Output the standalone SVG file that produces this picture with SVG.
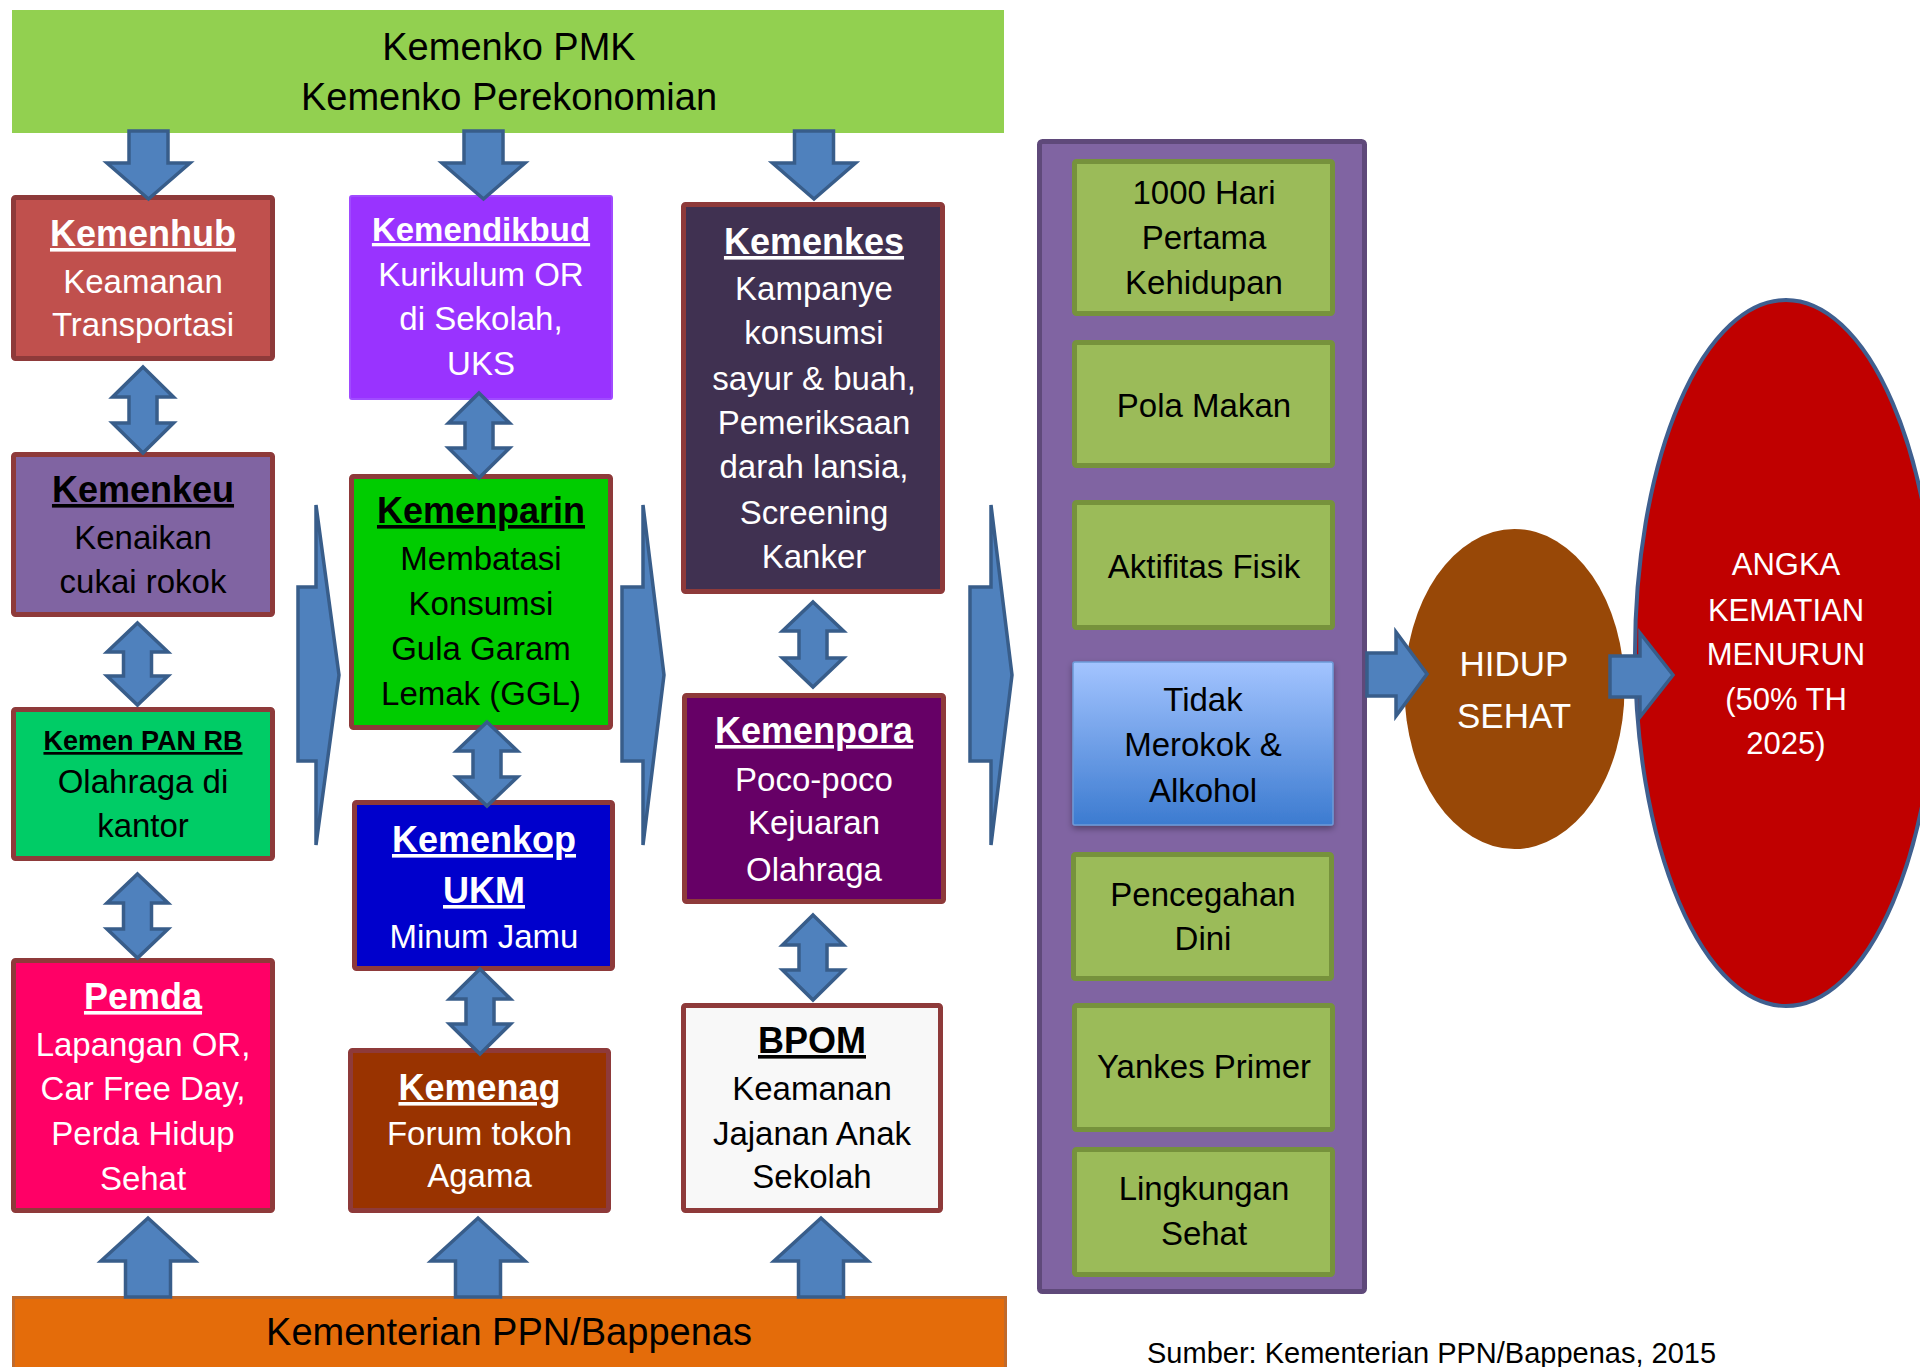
<svg xmlns="http://www.w3.org/2000/svg" width="1920" height="1367" viewBox="0 0 1920 1367">
<defs>
<style>
.arrow{fill:#4F81BD;stroke:#385D8A;stroke-width:3.5;stroke-linejoin:miter}
.box{stroke:#8E3A3A;stroke-width:5}
.g{fill:#9BBB59;stroke:#76923C;stroke-width:5}
text{font-family:"Liberation Sans",Arial,sans-serif;text-anchor:middle}
.title{font-weight:bold;font-size:36px;text-decoration:underline}
.body{font-size:33px}
.w{fill:#ffffff}
.k{fill:#000000}
</style>
<linearGradient id="blueGrad" x1="0" y1="0" x2="0" y2="1">
<stop offset="0" stop-color="#A3C4FF"/>
<stop offset="1" stop-color="#3C7BD0"/>
</linearGradient>
<filter id="shadow" x="-10%" y="-10%" width="120%" height="130%">
<feDropShadow dx="0" dy="3" stdDeviation="3" flood-color="#000" flood-opacity="0.35"/>
</filter>
</defs>
<rect width="1920" height="1367" fill="#ffffff"/>

<g id="kemenko">
<rect x="12" y="10" width="992" height="123" fill="#92D050"/>
<text class="k" x="509" y="60" font-size="38">Kemenko PMK</text>
<text class="k" x="509" y="110" font-size="38">Kemenko Perekonomian</text>
</g>

<g id="bappenas">
<rect x="13.5" y="1297.5" width="992" height="80" fill="#E46C0A" stroke="#C06A2B" stroke-width="3"/>
<text class="k" x="509" y="1345" font-size="38">Kementerian PPN/Bappenas</text>
</g>

<g id="kemenhub">
<rect class="box" x="13.5" y="197.5" width="259" height="161" rx="2" fill="#C0504D"/>
<text class="title w" x="143" y="246">Kemenhub</text>
<text class="body w" x="143" y="293">Keamanan</text>
<text class="body w" x="143" y="336">Transportasi</text>
</g>

<g id="kemenkeu">
<rect class="box" x="13.5" y="454.5" width="259" height="160" rx="2" fill="#8064A2"/>
<text class="title k" x="143" y="502">Kemenkeu</text>
<text class="body k" x="143" y="549">Kenaikan</text>
<text class="body k" x="143" y="593">cukai rokok</text>
</g>

<g id="kemenpanrb">
<rect class="box" x="13.5" y="709.5" width="259" height="149" rx="2" fill="#00CC66"/>
<text class="k" x="143" y="750" font-size="27" font-weight="bold" text-decoration="underline">Kemen PAN RB</text>
<text class="body k" x="143" y="793">Olahraga di</text>
<text class="body k" x="143" y="837">kantor</text>
</g>

<g id="pemda">
<rect class="box" x="13.5" y="960.5" width="259" height="250" rx="2" fill="#FF0066"/>
<text class="title w" x="143" y="1009">Pemda</text>
<text class="body w" x="143" y="1056">Lapangan OR,</text>
<text class="body w" x="143" y="1100">Car Free Day,</text>
<text class="body w" x="143" y="1145">Perda Hidup</text>
<text class="body w" x="143" y="1190">Sehat</text>
</g>

<g id="kemendikbud">
<rect x="350" y="196" width="262" height="203" rx="2" fill="#9933FF" stroke="#A04BFF" stroke-width="2"/>
<text class="w" x="481" y="241" font-size="33" font-weight="bold" text-decoration="underline">Kemendikbud</text>
<text class="body w" x="481" y="286">Kurikulum OR</text>
<text class="body w" x="481" y="330">di Sekolah,</text>
<text class="body w" x="481" y="375">UKS</text>
</g>

<g id="kemenparin">
<rect class="box" x="351.5" y="476.5" width="259" height="251" rx="2" fill="#00CC00"/>
<text class="title k" x="481" y="523">Kemenparin</text>
<text class="body k" x="481" y="570">Membatasi</text>
<text class="body k" x="481" y="615">Konsumsi</text>
<text class="body k" x="481" y="660">Gula Garam</text>
<text class="body k" x="481" y="705">Lemak (GGL)</text>
</g>

<g id="kemenkop">
<rect class="box" x="354.5" y="802.5" width="258" height="166" rx="2" fill="#0000CC"/>
<text class="title w" x="484" y="852">Kemenkop</text>
<text class="title w" x="484" y="903">UKM</text>
<text class="body w" x="484" y="948">Minum Jamu</text>
</g>

<g id="kemenag">
<rect class="box" x="350.5" y="1050.5" width="258" height="160" rx="2" fill="#993300"/>
<text class="title w" x="479.5" y="1100">Kemenag</text>
<text class="body w" x="479.5" y="1145">Forum tokoh</text>
<text class="body w" x="479.5" y="1187">Agama</text>
</g>

<g id="kemenkes">
<rect class="box" x="683.5" y="204.5" width="259" height="387" rx="2" fill="#403151"/>
<text class="title w" x="814" y="254">Kemenkes</text>
<text class="body w" x="814" y="300">Kampanye</text>
<text class="body w" x="814" y="344">konsumsi</text>
<text class="body w" x="814" y="390">sayur &amp; buah,</text>
<text class="body w" x="814" y="434">Pemeriksaan</text>
<text class="body w" x="814" y="478">darah lansia,</text>
<text class="body w" x="814" y="524">Screening</text>
<text class="body w" x="814" y="568">Kanker</text>
</g>

<g id="kemenpora">
<rect class="box" x="684.5" y="695.5" width="259" height="206" rx="2" fill="#660066"/>
<text class="title w" x="814" y="743">Kemenpora</text>
<text class="body w" x="814" y="791">Poco-poco</text>
<text class="body w" x="814" y="834">Kejuaran</text>
<text class="body w" x="814" y="881">Olahraga</text>
</g>

<g id="bpom">
<rect class="box" x="683.5" y="1005.5" width="257" height="205" rx="2" fill="#F8F8F8"/>
<text class="title k" x="812" y="1053">BPOM</text>
<text class="body k" x="812" y="1100">Keamanan</text>
<text class="body k" x="812" y="1145">Jajanan Anak</text>
<text class="body k" x="812" y="1188">Sekolah</text>
</g>

<g id="pilar">
<rect x="1039.5" y="141.5" width="325" height="1150" rx="3" fill="#8064A2" stroke="#5F497A" stroke-width="5"/>
</g>

<g id="hari1000">
<rect class="g" x="1074.5" y="161.5" width="258" height="152" rx="2"/>
<text class="body k" x="1204" y="204">1000 Hari</text>
<text class="body k" x="1204" y="249">Pertama</text>
<text class="body k" x="1204" y="294">Kehidupan</text>
</g>

<g id="polamakan">
<rect class="g" x="1074.5" y="342.5" width="258" height="123" rx="2"/>
<text class="body k" x="1204" y="417">Pola Makan</text>
</g>

<g id="aktifitas">
<rect class="g" x="1074.5" y="502.5" width="258" height="125" rx="2"/>
<text class="body k" x="1204" y="578">Aktifitas Fisik</text>
</g>

<g id="tidakmerokok">
<rect x="1073" y="662" width="260" height="163" rx="2" fill="url(#blueGrad)" stroke="#6C9BD8" stroke-width="1.5" filter="url(#shadow)"/>
<text class="body k" x="1203" y="711">Tidak</text>
<text class="body k" x="1203" y="756">Merokok &amp;</text>
<text class="body k" x="1203" y="802">Alkohol</text>
</g>

<g id="pencegahan">
<rect class="g" x="1073.5" y="854.5" width="258" height="124" rx="2"/>
<text class="body k" x="1203" y="906">Pencegahan</text>
<text class="body k" x="1203" y="950">Dini</text>
</g>

<g id="yankes">
<rect class="g" x="1074.5" y="1005.5" width="258" height="124" rx="2"/>
<text class="body k" x="1204" y="1078">Yankes Primer</text>
</g>

<g id="lingkungan">
<rect class="g" x="1074.5" y="1149.5" width="258" height="125" rx="2"/>
<text class="body k" x="1204" y="1200">Lingkungan</text>
<text class="body k" x="1204" y="1245">Sehat</text>
</g>

<g id="hidupsehat">
<ellipse cx="1514.5" cy="689" rx="110" ry="160" fill="#984807"/>
<text class="w" x="1514" y="676" font-size="35">HIDUP</text>
<text class="w" x="1514" y="728" font-size="35">SEHAT</text>
</g>

<g id="angkakematian">
<ellipse cx="1786" cy="653" rx="151" ry="353" fill="#C00000" stroke="#3F5F8F" stroke-width="4"/>
<text class="w" x="1786" y="575" font-size="31">ANGKA</text>
<text class="w" x="1786" y="621" font-size="31">KEMATIAN</text>
<text class="w" x="1786" y="665" font-size="31">MENURUN</text>
<text class="w" x="1786" y="710" font-size="31">(50% TH</text>
<text class="w" x="1786" y="754" font-size="31">2025)</text>
</g>

<g id="connectors">
<path class="arrow" d="M129,131 H168 V163 H190 L148.5,199 L107,163 H129 Z"/>
<path class="arrow" d="M464,131 H503 V163 H525 L483.5,199 L442,163 H464 Z"/>
<path class="arrow" d="M794.5,131 H833.5 V163 H855.5 L814,199 L772.5,163 H794.5 Z"/>
<path class="arrow" d="M125.5,1297 V1261 H101 L148,1218 L195,1261 H170.5 V1297 Z"/>
<path class="arrow" d="M455.5,1297 V1261 H431 L478,1218 L525,1261 H500.5 V1297 Z"/>
<path class="arrow" d="M798.5,1297 V1261 H774 L821,1218 L868,1261 H843.5 V1297 Z"/>
<path class="arrow" d="M143,367 L173.5,397 H157 V423 H173.5 L143,453 L112.5,423 H129 V397 H112.5 Z"/>
<path class="arrow" d="M137.5,623 L168,652 H151.5 V676 H168 L137.5,705 L107,676 H123.5 V652 H107 Z"/>
<path class="arrow" d="M137.5,874 L168,903 H151.5 V929 H168 L137.5,958 L107,929 H123.5 V903 H107 Z"/>
<path class="arrow" d="M479,393 L509.5,423 H493 V448 H509.5 L479,478 L448.5,448 H465 V423 H448.5 Z"/>
<path class="arrow" d="M487,722 L517.5,751 H501 V777 H517.5 L487,806 L456.5,777 H473 V751 H456.5 Z"/>
<path class="arrow" d="M480,969 L510.5,999 H494 V1024 H510.5 L480,1054 L449.5,1024 H466 V999 H449.5 Z"/>
<path class="arrow" d="M813,602 L843.5,631 H827 V658 H843.5 L813,687 L782.5,658 H799 V631 H782.5 Z"/>
<path class="arrow" d="M813,915 L843.5,945 H827 V970 H843.5 L813,1000 L782.5,970 H799 V945 H782.5 Z"/>
<path class="arrow" d="M298,587 H316 V505 L339,675 L316,845 V761 H298 Z"/>
<path class="arrow" d="M622,587 H643 V505 L664,675 L643,845 V761 H622 Z"/>
<path class="arrow" d="M970,587 H991 V505 L1012,675 L991,845 V761 H970 Z"/>
<path class="arrow" d="M1367,653 H1396 V632 L1427,674 L1396,716 V696 H1367 Z"/>
<path class="arrow" d="M1610,656 H1640 V633 L1673,675 L1640,717 V697 H1610 Z"/>
</g>

<g id="sumber">
<text class="k" x="1147" y="1363" font-size="29" style="text-anchor:start">Sumber: Kementerian PPN/Bappenas, 2015</text>
</g>
</svg>
